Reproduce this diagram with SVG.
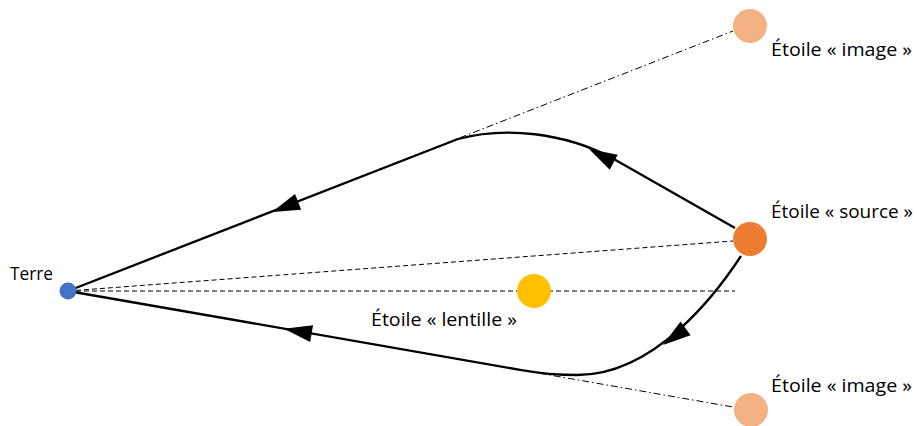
<svg xmlns="http://www.w3.org/2000/svg" xmlns:xlink="http://www.w3.org/1999/xlink" width="917" height="426" viewBox="0 0 917 426">
<style>
.lbl{font-family:"Open Sans","Liberation Sans",sans-serif;font-size:18px;fill:#000}
.path{fill:none;stroke:#000;stroke-width:2.3;stroke-linejoin:round}
.dash{fill:none;stroke:#000;stroke-width:1;stroke-dasharray:5 3}
.dashdot{fill:none;stroke:#000;stroke-width:1;stroke-dasharray:7 3 1.5 3}
.ah{fill:#000}
</style>
<defs>
<path id="ah" d="M0,0 L-28,-8.5 L-28,8.5 Z"/>
</defs>
<rect width="917" height="426" fill="#fff"/>
<g id="connectors">
<line class="dash" x1="68" y1="291" x2="735" y2="291"/>
<line class="dash" x1="68" y1="291" x2="733" y2="241"/>
<line class="dashdot" x1="68" y1="291" x2="733" y2="31"/>
<line class="dashdot" x1="68" y1="291" x2="733" y2="407"/>
<path class="path" d="M735 228 L612 158 C565 133 505 126 458 139 L68 291"/>
<path class="path" d="M741 256 C719 289.5 657 375 577 375 C555 375 540 373.3 520 369.8 L68 291"/>
<use class="ah" xlink:href="#ah" transform="translate(589,149) rotate(-152)"/>
<use class="ah" xlink:href="#ah" transform="translate(272,212) rotate(158.7)"/>
<use class="ah" xlink:href="#ah" transform="translate(284,328.7) rotate(189.9)"/>
<use class="ah" xlink:href="#ah" transform="translate(663,345) rotate(143.7)"/>
</g>
<g id="terre">
<circle cx="68" cy="291" r="8.5" fill="#4472C4"/>
<text class="lbl" x="10" y="280" textLength="43" lengthAdjust="spacingAndGlyphs">Terre</text>
</g>
<g id="lentille">
<circle cx="534" cy="291" r="17" fill="#FFC000"/>
<text class="lbl" x="371" y="326" textLength="146" lengthAdjust="spacingAndGlyphs">Étoile « lentille »</text>
</g>
<g id="source">
<circle cx="750" cy="239" r="17" fill="#ED7D31"/>
<text class="lbl" x="771" y="218" textLength="142" lengthAdjust="spacingAndGlyphs">Étoile « source »</text>
</g>
<g id="image-haut">
<circle cx="750" cy="26" r="17" fill="#F4B183"/>
<text class="lbl" x="771" y="56" textLength="141" lengthAdjust="spacingAndGlyphs">Étoile « image »</text>
</g>
<g id="image-bas">
<circle cx="751" cy="410" r="17" fill="#F4B183"/>
<text class="lbl" x="771" y="392" textLength="141" lengthAdjust="spacingAndGlyphs">Étoile « image »</text>
</g>
</svg>
